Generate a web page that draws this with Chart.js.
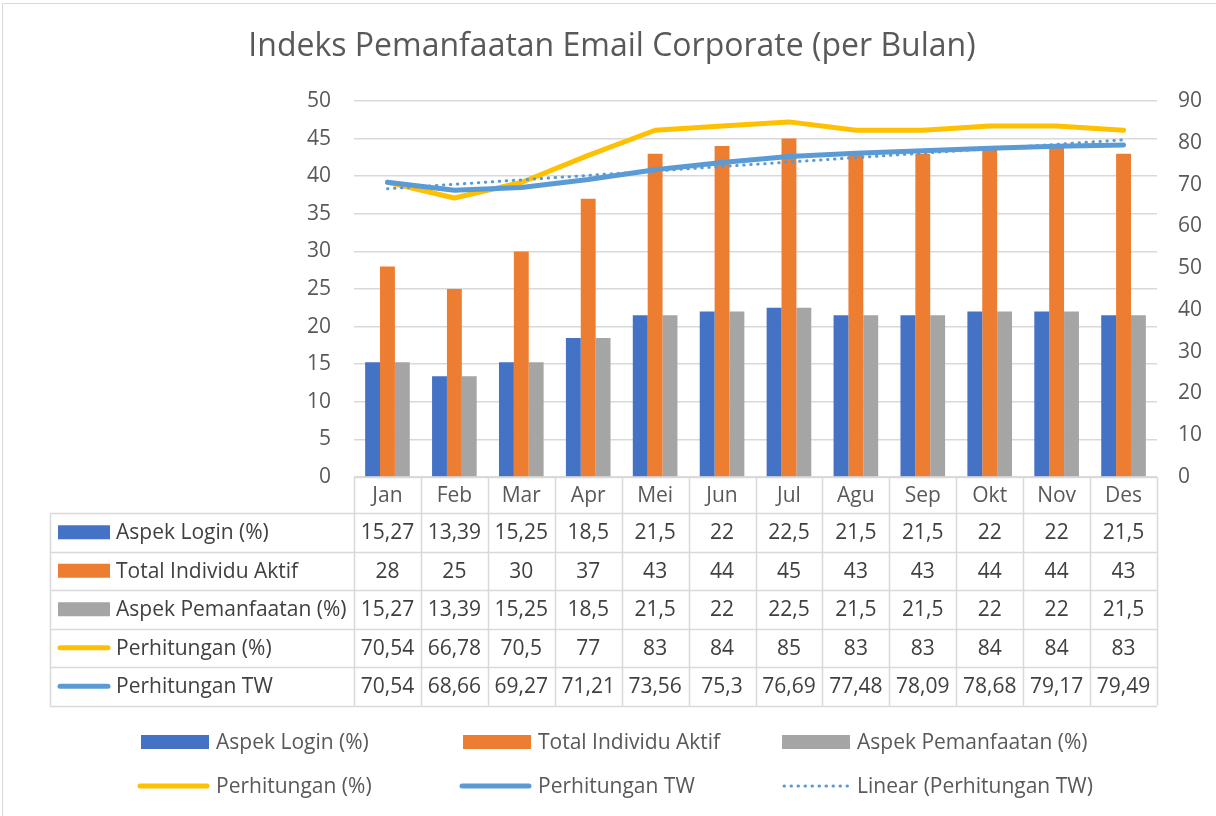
<!DOCTYPE html>
<html>
<head>
<meta charset="utf-8">
<title>Indeks Pemanfaatan Email Corporate</title>
<script src="https://cdn.jsdelivr.net/npm/chart.js@4"></script>
<style>
  html, body { margin: 0; padding: 0; background: #ffffff; }
  #wrap { position: relative; width: 1216px; height: 816px; }
  canvas { display: block; }
</style>
</head>
<body>
<div id="wrap"><canvas id="c" width="1216" height="816"></canvas></div>
<script>
// Months along the category axis
const months = ['Jan', 'Feb', 'Mar', 'Apr', 'Mei', 'Jun', 'Jul', 'Agu', 'Sep', 'Okt', 'Nov', 'Des'];

// Bar series (left axis)
const aspekLogin = [15.27, 13.39, 15.25, 18.5, 21.5, 22, 22.5, 21.5, 21.5, 22, 22, 21.5];
const totalIndividuAktif = [28, 25, 30, 37, 43, 44, 45, 43, 43, 44, 44, 43];
const aspekPemanfaatan = [15.27, 13.39, 15.25, 18.5, 21.5, 22, 22.5, 21.5, 21.5, 22, 22, 21.5];

// Line series (right axis)
const perhitungan = [70.54, 66.78, 70.5, 77, 83, 84, 85, 83, 83, 84, 84, 83];
const perhitunganTW = [70.54, 68.66, 69.27, 71.21, 73.56, 75.3, 76.69, 77.48, 78.09, 78.68, 79.17, 79.49];

// Linear trend of Perhitungan TW: its value at the first and last month
const trendStart = 69.0;
const trendEnd = 80.7;

// Axis ticks
const leftTicks = [0, 5, 10, 15, 20, 25, 30, 35, 40, 45, 50];
const rightTicks = [0, 10, 20, 30, 40, 50, 60, 70, 80, 90];

const titleText = 'Indeks Pemanfaatan Email Corporate (per Bulan)';

const COLORS = {
  login: '#4472C4',
  aktif: '#ED7D31',
  pemanfaatan: '#A5A5A5',
  perhitungan: '#FFC000',
  tw: '#5B9BD5'
};
const FONT = '"Open Sans", "DejaVu Sans", sans-serif';
const TEXT = '#595959';
const CELL_TEXT = '#404040';
const GRID = '#D9D9D9';

const trendData = months.map((m, i) => i === 0 ? trendStart : (i === months.length - 1 ? trendEnd : null));

const fmt = v => String(v).replace('.', ',');

// Rows of the data table under the plot, with their legend keys
const tableRows = [
  { label: 'Aspek Login (%)', values: aspekLogin, color: COLORS.login, kind: 'box' },
  { label: 'Total Individu Aktif', values: totalIndividuAktif, color: COLORS.aktif, kind: 'box' },
  { label: 'Aspek Pemanfaatan (%)', values: aspekPemanfaatan, color: COLORS.pemanfaatan, kind: 'box' },
  { label: 'Perhitungan (%)', values: perhitungan, color: COLORS.perhitungan, kind: 'line' },
  { label: 'Perhitungan TW', values: perhitunganTW, color: COLORS.tw, kind: 'line' }
];

// Legend entries below the table
const legendItems = [
  { label: 'Aspek Login (%)', color: COLORS.login, kind: 'box' },
  { label: 'Total Individu Aktif', color: COLORS.aktif, kind: 'box' },
  { label: 'Aspek Pemanfaatan (%)', color: COLORS.pemanfaatan, kind: 'box' },
  { label: 'Perhitungan (%)', color: COLORS.perhitungan, kind: 'line' },
  { label: 'Perhitungan TW', color: COLORS.tw, kind: 'line' },
  { label: 'Linear (Perhitungan TW)', color: COLORS.tw, kind: 'dots' }
];

function drawKey(ctx, kind, color, x0, x1, cy) {
  ctx.save();
  if (kind === 'box') {
    ctx.fillStyle = color;
    ctx.fillRect(x0, cy - 7, x1 - x0, 14);
  } else if (kind === 'line') {
    ctx.strokeStyle = color;
    ctx.lineWidth = 5;
    ctx.lineCap = 'round';
    ctx.beginPath();
    ctx.moveTo(x0 + 2, cy);
    ctx.lineTo(x1 - 2, cy);
    ctx.stroke();
  } else {
    ctx.strokeStyle = color;
    ctx.lineWidth = 3;
    ctx.lineCap = 'round';
    ctx.setLineDash([0.5, 6.5]);
    ctx.beginPath();
    ctx.moveTo(x0 + 2, cy);
    ctx.lineTo(x1 - 2, cy);
    ctx.stroke();
  }
  ctx.restore();
}

const tablePlugin = {
  id: 'tableAndLegend',
  afterDraw(chart) {
    const ctx = chart.ctx;
    const area = chart.chartArea;
    const x = chart.scales.x;
    const n = months.length;
    const colW = (area.right - area.left) / n;
    const top = area.bottom;
    const headerH = 36;
    const rowH = 38.5;
    const tableLeft = 50;
    const bottom = top + headerH + rowH * tableRows.length;

    ctx.save();
    ctx.strokeStyle = GRID;
    ctx.lineWidth = 1.5;

    // header row borders
    ctx.beginPath();
    ctx.moveTo(area.left, top + 0.5);
    ctx.lineTo(area.right, top + 0.5);
    for (let i = 0; i <= n; i++) {
      const xx = Math.round(area.left + i * colW) + 0.5;
      ctx.moveTo(xx, top);
      ctx.lineTo(xx, bottom);
    }
    // body rows
    for (let r = 0; r <= tableRows.length; r++) {
      const yy = Math.round(top + headerH + r * rowH) + 0.5;
      ctx.moveTo(tableLeft, yy);
      ctx.lineTo(area.right, yy);
    }
    ctx.moveTo(tableLeft + 0.5, top + headerH);
    ctx.lineTo(tableLeft + 0.5, bottom);
    ctx.stroke();

    // month names
    ctx.font = '21px ' + FONT;
    ctx.textAlign = 'center';
    ctx.textBaseline = 'middle';
    ctx.fillStyle = TEXT;
    months.forEach((m, i) => {
      ctx.fillText(m, x.getPixelForValue(i), top + headerH / 2 + 1);
    });

    // body cells
    tableRows.forEach((row, r) => {
      const cy = top + headerH + r * rowH + rowH / 2;
      drawKey(ctx, row.kind, row.color, 58, 110, cy);
      ctx.fillStyle = CELL_TEXT;
      ctx.textAlign = 'left';
      ctx.fillText(row.label, 116, cy + 1);
      ctx.textAlign = 'center';
      row.values.forEach((v, i) => {
        ctx.fillText(fmt(v), x.getPixelForValue(i), cy + 1);
      });
    });

    // legend, two rows of three
    const colX = [141, 463, 782];
    const rowY = [742, 786];
    ctx.textAlign = 'left';
    legendItems.forEach((item, k) => {
      const cx = colX[k % 3];
      const cy = rowY[Math.floor(k / 3)];
      drawKey(ctx, item.kind, item.color, cx - (item.kind === 'line' ? 3 : 0), cx + 68, cy);
      ctx.fillStyle = TEXT;
      ctx.fillText(item.label, cx + 75, cy + 1);
    });

    // title
    ctx.font = '32px ' + FONT;
    ctx.textAlign = 'center';
    ctx.fillStyle = TEXT;
    ctx.fillText(titleText, 612, 47);

    // outer frame
    ctx.strokeStyle = '#D9D9D9';
    ctx.lineWidth = 1;
    ctx.strokeRect(2.5, 3.5, 1220, 820);
    ctx.restore();
  }
};

new Chart(document.getElementById('c'), {
  data: {
    labels: months,
    datasets: [
      { type: 'bar', label: 'Aspek Login (%)', data: aspekLogin, backgroundColor: COLORS.login, yAxisID: 'y', order: 10 },
      { type: 'bar', label: 'Total Individu Aktif', data: totalIndividuAktif, backgroundColor: COLORS.aktif, yAxisID: 'y', order: 10 },
      { type: 'bar', label: 'Aspek Pemanfaatan (%)', data: aspekPemanfaatan, backgroundColor: COLORS.pemanfaatan, yAxisID: 'y', order: 10 },
      { type: 'line', label: 'Perhitungan (%)', data: perhitungan, borderColor: COLORS.perhitungan, borderWidth: 5, pointRadius: 0, tension: 0, yAxisID: 'y1', order: 3, borderCapStyle: 'round', borderJoinStyle: 'round' },
      { type: 'line', label: 'Perhitungan TW', data: perhitunganTW, borderColor: COLORS.tw, borderWidth: 5, pointRadius: 0, tension: 0, yAxisID: 'y1', order: 2, borderCapStyle: 'round', borderJoinStyle: 'round' },
      { type: 'line', label: 'Linear (Perhitungan TW)', data: trendData, spanGaps: true, borderColor: COLORS.tw, borderWidth: 3, borderDash: [0.5, 6.5], borderCapStyle: 'round', pointRadius: 0, yAxisID: 'y1', order: 1 }
    ]
  },
  options: {
    responsive: false,
    animation: false,
    devicePixelRatio: 1,
    layout: { padding: { left: 274, right: 9, top: 101, bottom: 0 } },
    datasets: {
      bar: { categoryPercentage: 0.667, barPercentage: 1 }
    },
    plugins: {
      legend: { display: false },
      title: { display: false },
      tooltip: { enabled: false }
    },
    scales: {
      x: {
        ticks: { display: false },
        grid: { display: false },
        border: { display: false },
        afterFit: s => { s.height = 339; }
      },
      y: {
        position: 'left',
        min: 0, max: 50,
        afterBuildTicks: s => { s.ticks = leftTicks.map(v => ({ value: v })); },
        ticks: { padding: 23, color: TEXT, font: { family: FONT, size: 21 } },
        grid: { color: GRID, lineWidth: 1.5, drawTicks: false },
        border: { display: false },
        afterFit: s => { s.width = 80; }
      },
      y1: {
        position: 'right',
        min: 0, max: 90,
        afterBuildTicks: s => { s.ticks = rightTicks.map(v => ({ value: v })); },
        ticks: { padding: 21, color: TEXT, font: { family: FONT, size: 21 } },
        grid: { display: false, drawTicks: false },
        border: { display: false },
        afterFit: s => { s.width = 50; }
      }
    }
  },
  plugins: [tablePlugin]
});
</script>
</body>
</html>
